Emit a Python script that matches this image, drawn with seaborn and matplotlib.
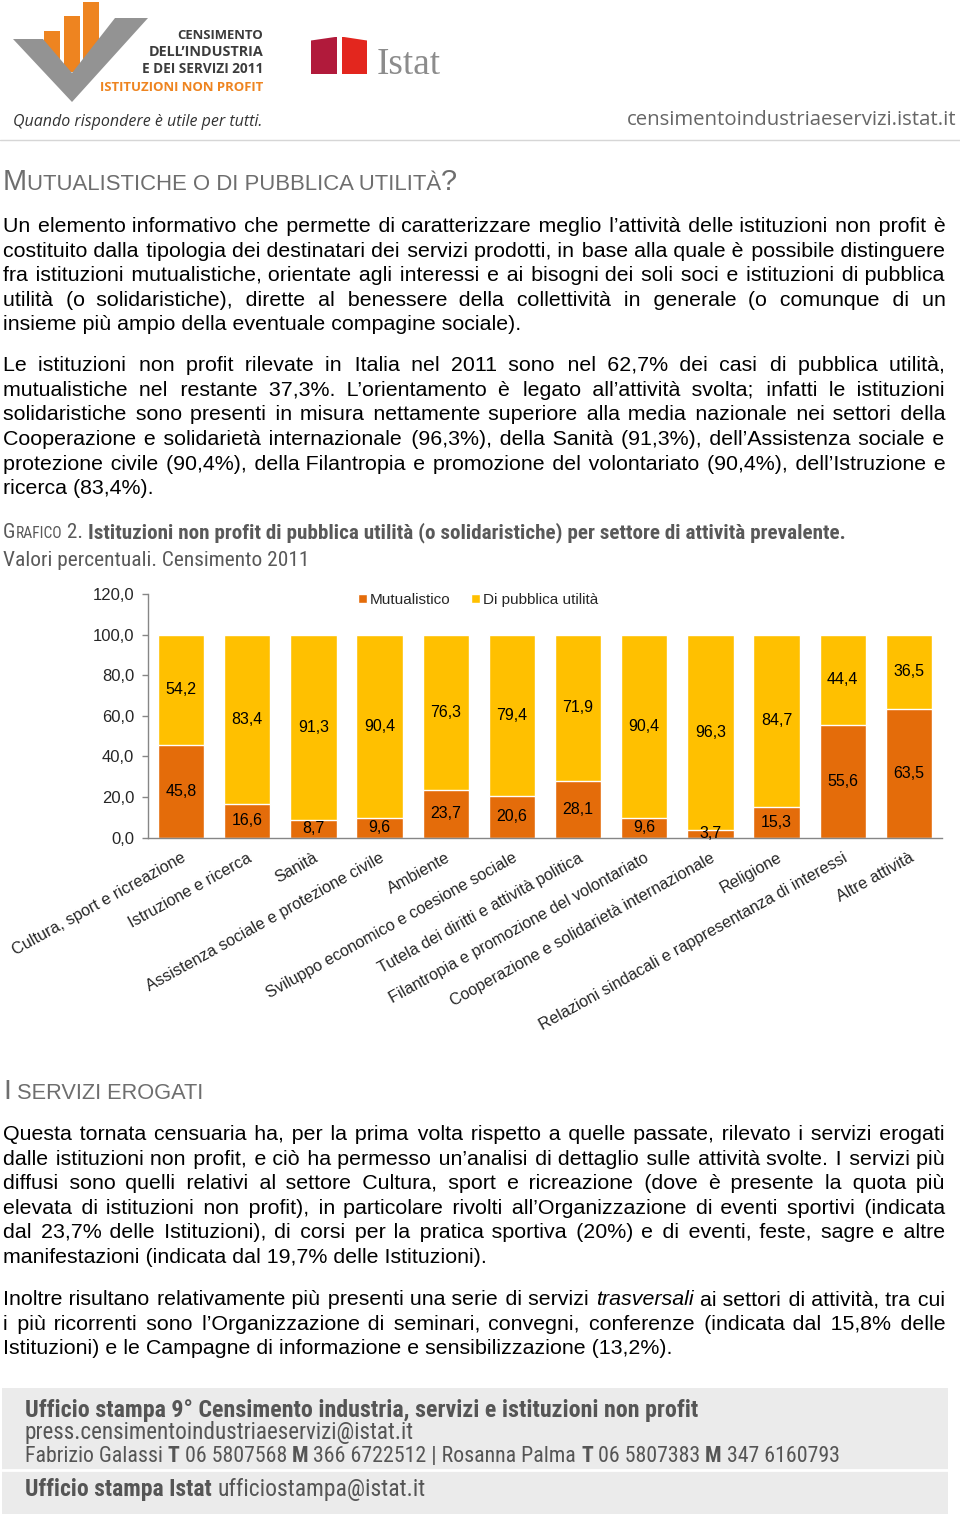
import matplotlib
matplotlib.use("Agg")
import numpy as np
import matplotlib.pyplot as plt
from matplotlib import font_manager
from matplotlib.patches import Polygon, Rectangle, Patch
import seaborn as sns

# --- Grafico 2 data ---
categories = [
    "Cultura, sport e ricreazione", "Istruzione e ricerca", "Sanità",
    "Assistenza sociale e protezione civile", "Ambiente",
    "Sviluppo economico e coesione sociale", "Tutela dei diritti e attività politica",
    "Filantropia e promozione del volontariato", "Cooperazione e solidarietà internazionale",
    "Religione", "Relazioni sindacali e rappresentanza di interessi", "Altre attività",
]
mutualistico = [45.8, 16.6, 8.7, 9.6, 23.7, 20.6, 28.1, 9.6, 3.7, 15.3, 55.6, 63.5]
pubblica_utilita = [54.2, 83.4, 91.3, 90.4, 76.3, 79.4, 71.9, 90.4, 96.3, 84.7, 44.4, 36.5]
series_names = ["Mutualistico", "Di pubblica utilità"]
y_ticks = [0, 20, 40, 60, 80, 100, 120]

# --- page text ---
para1 = [
    "Un elemento informativo che permette di caratterizzare meglio l’attività delle istituzioni non profit è",
    "costituito dalla tipologia dei destinatari dei servizi prodotti, in base alla quale è possibile distinguere",
    "fra istituzioni mutualistiche, orientate agli interessi e ai bisogni dei soli soci e istituzioni di pubblica",
    "utilità (o solidaristiche), dirette al benessere della collettività in generale (o comunque di un",
    "insieme più ampio della eventuale compagine sociale).",
]
para2 = [
    "Le istituzioni non profit rilevate in Italia nel 2011 sono nel 62,7% dei casi di pubblica utilità,",
    "mutualistiche nel restante 37,3%. L’orientamento è legato all’attività svolta; infatti le istituzioni",
    "solidaristiche sono presenti in misura nettamente superiore alla media nazionale nei settori della",
    "Cooperazione e solidarietà internazionale (96,3%), della Sanità (91,3%), dell’Assistenza sociale e",
    "protezione civile (90,4%), della Filantropia e promozione del volontariato (90,4%), dell’Istruzione e",
    "ricerca (83,4%).",
]
para3 = [
    "Questa tornata censuaria ha, per la prima volta rispetto a quelle passate, rilevato i servizi erogati",
    "dalle istituzioni non profit, e ciò ha permesso un’analisi di dettaglio sulle attività svolte. I servizi più",
    "diffusi sono quelli relativi al settore Cultura, sport e ricreazione (dove è presente la quota più",
    "elevata di istituzioni non profit), in particolare rivolti all’Organizzazione di eventi sportivi (indicata",
    "dal 23,7% delle Istituzioni), di corsi per la pratica sportiva (20%) e di eventi, feste, sagre e altre",
    "manifestazioni (indicata dal 19,7% delle Istituzioni).",
]
para4 = [
    "Inoltre risultano relativamente più presenti una serie di servizi _trasversali_ ai settori di attività, tra cui",
    "i più ricorrenti sono l’Organizzazione di seminari, convegni, conferenze (indicata dal 15,8% delle",
    "Istituzioni) e le Campagne di informazione e sensibilizzazione (13,2%).",
]

ORANGE = "#E46C0A"
YELLOW = "#FFC000"
AXIS_GRAY = "#868686"
HEAD_GRAY = "#6E6E6E"
SANS = ["Liberation Sans", "DejaVu Sans"]
OPEN = ["Open Sans", "DejaVu Sans"]

# pick a condensed face if one is installed (title and footer use narrow type)
installed = {(f.name, f.stretch) for f in font_manager.fontManager.ttflist}
names = {n for n, _ in installed}
if "Liberation Sans Narrow" in names:
    NARROW = dict(family=["Liberation Sans Narrow", "Liberation Sans"])
elif "Roboto Condensed" in names:
    NARROW = dict(family=["Roboto Condensed", "Liberation Sans"])
elif any(n == "DejaVu Sans" and s in ("condensed", 75, "semi-condensed") for n, s in installed):
    NARROW = dict(family=["DejaVu Sans"], stretch="condensed")
else:
    NARROW = dict(family=SANS)

sns.set_style("white")
plt.rcParams["font.family"] = SANS

W, H = 960, 1514
fig = plt.figure(figsize=(W / 100, H / 100), dpi=100)
page = fig.add_axes([0, 0, 1, 1], zorder=0)
page.set_xlim(0, W)
page.set_ylim(H, 0)
page.axis("off")
renderer = fig.canvas.get_renderer()


def adv(s, **kw):
    # advance width of a string, trailing/leading spaces included
    a = page.text(0, 0, "|" + s + "|", **kw)
    b = page.text(0, 0, "||", **kw)
    w = a.get_window_extent(renderer).width - b.get_window_extent(renderer).width
    a.remove()
    b.remove()
    return w


def run(x, y, pieces, fit=None, right=False, **common):
    """Draw pieces one after another on a baseline, optionally scaled to a width."""
    specs = []
    for s, kw in pieces:
        kw = {**common, **kw}
        kw.setdefault("fontsize", 12)
        specs.append((s, kw))
    if fit is not None:
        total = sum(adv(s, **kw) for s, kw in specs)
        for _, kw in specs:
            kw["fontsize"] *= fit / total
    widths = [(s, kw, adv(s, **kw)) for s, kw in specs]
    cx = x - sum(w for _, _, w in widths) if right else x
    for s, kw, w in widths:
        page.text(cx, y, s, ha="left", va="baseline", **kw)
        cx += w
    return cx


# body font size calibrated on a left-aligned last line
probe = page.text(0, 0, para1[-1], fontsize=10, family=SANS)
BODY = 10 * 520 / probe.get_window_extent(renderer).width
probe.remove()
BODY_KW = dict(fontsize=BODY, family=SANS, color="black")
SPACE = adv(" ", **BODY_KW)
# a fine space used to stretch gaps of justified lines
for FILL in ["\u200a", "\u2009", "\u2006"]:
    FILL_W = adv(FILL * 10, **BODY_KW) / 10
    if FILL_W > 0.5:
        break


def paragraph(lines, y0, step=24.55, x0=3, x1=945):
    for k, line in enumerate(lines):
        y = round(y0 + k * step)
        tokens = line.split()
        italic = [t.startswith("_") for t in tokens]
        words = [t.strip("_") for t in tokens]
        ww = [adv(w, style="italic" if it else "normal", **BODY_KW) for w, it in zip(words, italic)]
        n = len(words)
        gaps, gapw = [], []
        if k == len(lines) - 1:
            gaps, gapw = [" "] * (n - 1), [SPACE] * (n - 1)
        else:
            g = (x1 - x0 - sum(ww)) / (n - 1)
            done = 0.0
            for i in range(n - 1):
                extra = max(0, round((g * (i + 1) - done - SPACE) / FILL_W))
                gaps.append(" " + FILL * extra)
                gapw.append(SPACE + extra * FILL_W)
                done += gapw[-1]
        # one text per run of same style, so the words of a line share a baseline
        segs, cx, start, buf, cur = [], x0, x0, "", italic[0]
        for i, w in enumerate(words):
            if italic[i] != cur:
                segs.append((start, buf, cur))
                start, buf, cur = cx, "", italic[i]
            buf += w
            cx += ww[i]
            if i < n - 1:
                buf += gaps[i]
                cx += gapw[i]
        segs.append((start, buf, cur))
        for sx, s, it in segs:
            page.text(sx, y, s.rstrip(" " + FILL), style="italic" if it else "normal",
                      va="baseline", ha="left", **BODY_KW)


# --- header logos ---
for bx, top in [(44, 31), (64, 16), (83, 2)]:
    page.add_patch(Rectangle((bx, top), 16, 72 - top, facecolor="#EE8420", edgecolor="none"))
page.add_patch(Polygon([(13, 39), (43, 39), (72, 73), (115, 18), (148, 18), (72, 102)],
                       closed=True, facecolor="#939393", edgecolor="none"))
logo_lines = [("CENSIMENTO", 39, 86, "#3C3C3C"), ("DELL’INDUSTRIA", 56, 115, "#3C3C3C"),
              ("E DEI SERVIZI 2011", 73, 121, "#3C3C3C"), ("ISTITUZIONI NON PROFIT", 91, 163, "#EE8420")]
for s, yb, w, c in logo_lines:
    run(263, yb, [(s, {})], fit=w, right=True, family=OPEN, weight="bold", color=c)
run(13, 126, [("Quando rispondere è utile per tutti.", {})], fit=250, family=OPEN,
    style="italic", color="#333333")
page.add_patch(Polygon([(311, 40.5), (335, 37), (337, 37), (337, 74), (311, 74)],
                       closed=True, facecolor="#B11A3B", edgecolor="none"))
page.add_patch(Polygon([(342, 37), (344, 37), (367, 40.5), (367, 74), (342, 74)],
                       closed=True, facecolor="#E3261E", edgecolor="none"))
run(377, 74, [("Istat", {})], fit=64, family=["Liberation Serif", "DejaVu Serif"], color="#8C8C8C")
run(957, 125, [("censimentoindustriaeservizi.istat.it", {})], fit=327, right=True,
    family=OPEN, color="#666666")
page.plot([0, W], [139.5, 139.5], color="#D6D6D6", lw=1)

# --- section heading and text ---
run(3, 190, [("M", {"fontsize": 17}), ("UTUALISTICHE O DI PUBBLICA UTILITÀ", {"fontsize": 13}),
             ("?", {"fontsize": 17})], fit=452, family=SANS, color=HEAD_GRAY)
paragraph(para1, 232.3)
paragraph(para2, 371.3)

# --- chart title ---
run(3, 538, [("G", {"fontsize": 15}), ("RAFICO", {"fontsize": 11}), (" 2. ", {"fontsize": 15}),
             ("Istituzioni non profit di pubblica utilità (o solidaristiche) per settore di attività prevalente.",
              {"fontsize": 15, "weight": "bold"})], fit=842, color="#595959", **NARROW)
run(3, 566, [("Valori percentuali. Censimento 2011", {"fontsize": 16})], fit=308,
    color="#595959", **NARROW)

# --- chart ---
ax = fig.add_axes([148 / W, 1 - 837.7 / H, 794 / W, 243.7 / H], zorder=1)
ax.patch.set_alpha(0)
totals = [m + p for m, p in zip(mutualistico, pubblica_utilita)]
sns.barplot(x=categories, y=totals, color=YELLOW, saturation=1, width=0.7, ax=ax)
sns.barplot(x=categories, y=mutualistico, color=ORANGE, saturation=1, width=0.7, ax=ax)


def fmt(v):
    return f"{v:.1f}".replace(".", ",")


for i, (m, p) in enumerate(zip(mutualistico, pubblica_utilita)):
    ax.text(i, m / 2, fmt(m), ha="center", va="center", fontsize=11.5, color="black")
    ax.text(i, m + p / 2, fmt(p), ha="center", va="center", fontsize=11.5, color="black")

ax.set_ylim(0, 120)
ax.set_xlim(-0.5, len(categories) - 0.5)
ax.set_yticks(y_ticks)
ax.set_yticklabels([fmt(v) for v in y_ticks])
ax.set_xticks(range(len(categories)))
ax.set_xticklabels(categories, rotation=29, ha="right", rotation_mode="anchor")
ax.set_xticks(np.arange(len(categories) + 1) - 0.5, minor=True)
ax.set_xlabel("")
ax.set_ylabel("")
ax.tick_params(axis="x", which="major", length=0, pad=9, labelsize=11.7)
ax.tick_params(axis="x", which="minor", length=5, width=1, color=AXIS_GRAY, direction="out")
ax.tick_params(axis="y", length=4, width=1, color=AXIS_GRAY, pad=6, labelsize=12, left=True)
for side in ["top", "right"]:
    ax.spines[side].set_visible(False)
for side in ["left", "bottom"]:
    ax.spines[side].set_color(AXIS_GRAY)
    ax.spines[side].set_linewidth(1)

handles = [Patch(facecolor=ORANGE, label=series_names[0]),
           Patch(facecolor=YELLOW, label=series_names[1])]
fig.legend(handles=handles, loc="center", bbox_to_anchor=(478 / W, 1 - 600 / H), ncol=2,
           frameon=False, fontsize=11, handlelength=0.6, handleheight=0.6,
           handletextpad=0.2, columnspacing=1.3, borderpad=0)

# --- second section ---
run(3, 1099, [("I", {"fontsize": 17}), (" SERVIZI EROGATI", {"fontsize": 13})], fit=200,
    family=SANS, color=HEAD_GRAY)
paragraph(para3, 1140.2)
paragraph(para4, 1305.2)

# --- footer box ---
page.add_patch(Rectangle((2, 1388), 946, 126, facecolor="#EBEBEB", edgecolor="none"))
page.plot([2, 948], [1470, 1470], color="white", lw=2)
FOOT = dict(color="#555555", **NARROW)
B = {"weight": "bold"}
run(25, 1417, [("Ufficio stampa 9° Censimento industria, servizi e istituzioni non profit", B)],
    fit=673, **FOOT)
run(25, 1439, [("press.censimentoindustriaeservizi@istat.it", {})], fit=388, **FOOT)
run(25, 1462, [("Fabrizio Galassi ", {}), ("T", B), (" 06 5807568 ", {}), ("M", B),
               (" 366 6722512 | Rosanna Palma ", {}), ("T", B), (" 06 5807383 ", {}), ("M", B),
               (" 347 6160793", {})], fit=815, **FOOT)
run(25, 1496, [("Ufficio stampa Istat ", B), ("ufficiostampa@istat.it", {})], fit=400, **FOOT)

fig.savefig("out.png", dpi=100)
